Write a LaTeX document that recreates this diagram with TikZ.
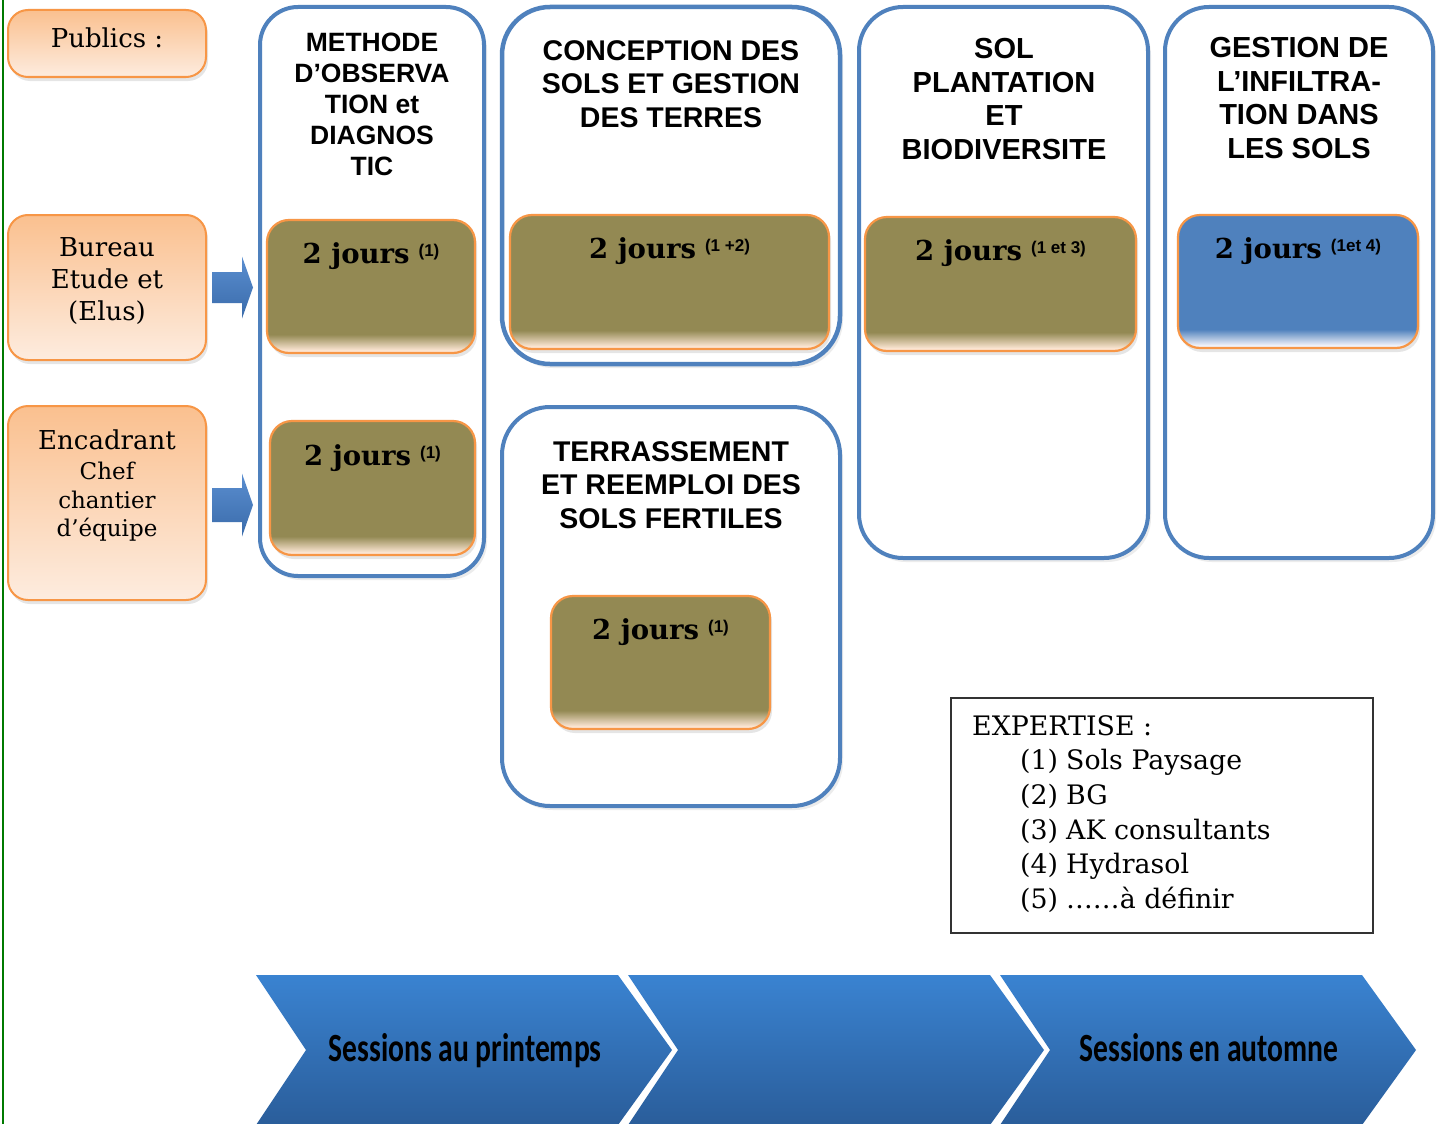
\documentclass[tikz,border=0pt]{standalone}
\usepackage{fontspec}
\usepackage{graphicx}
\setmainfont{DejaVu Serif}
\newfontfamily\arialf{Liberation Sans}
\newfontfamily\calif{Carlito}
\usetikzlibrary{shadows,calc}
\definecolor{colblue}{HTML}{4F81BD}
\definecolor{olivefill}{HTML}{938953}
\definecolor{fadebot}{HTML}{FCE6D4}
\definecolor{innerblue}{HTML}{4F81BD}
\definecolor{bluebot}{HTML}{F2F2F8}
\definecolor{orbord}{HTML}{F79646}
\definecolor{ortop}{HTML}{FAC08F}
\definecolor{orbot}{HTML}{FDECDF}
\definecolor{chevtop}{HTML}{3A83D1}
\definecolor{chevbot}{HTML}{2A5D9A}
\definecolor{arrtop}{HTML}{5A8ED0}
\definecolor{arrbot}{HTML}{3A6BAA}
\definecolor{lineg}{HTML}{007A00}
\pgfdeclareverticalshading{olivefade}{100bp}{color(0bp)=(fadebot); color(26bp)=(fadebot); color(32bp)=(olivefill); color(100bp)=(olivefill)}
\pgfdeclareverticalshading{bluefade}{100bp}{color(0bp)=(bluebot); color(26bp)=(bluebot); color(32bp)=(innerblue); color(100bp)=(innerblue)}
\newcommand\jours[1]{{\fontsize{27.5}{30}\selectfont\bfseries 2 jours}\hspace{9pt}{\arialf\bfseries\fontsize{17}{17}\selectfont\raisebox{7pt}{(#1)}}}
\tikzset{
  colbox/.style={draw=colblue, line width=4pt, fill=white, rounded corners=38pt, inner sep=0pt,
    drop shadow={opacity=0.15, shadow xshift=3pt, shadow yshift=-4pt}},
  inbox/.style={draw=orbord, line width=2.2pt, shade, shading=olivefade, rounded corners=22pt, inner sep=0pt,
    drop shadow={opacity=0.2, shadow xshift=2pt, shadow yshift=-4pt}},
  bluebox/.style={inbox, shading=bluefade},
  pubbox/.style={draw=orbord, line width=2pt, shade, top color=ortop, bottom color=orbot, rounded corners=20pt, inner sep=0pt,
    drop shadow={opacity=0.2, shadow xshift=2pt, shadow yshift=-4pt}},
  title/.style={font=\arialf\bfseries\fontsize{29}{33.7}\selectfont, align=center, inner sep=0pt, anchor=north},
  jtext/.style={inner sep=0pt, anchor=base},
  pubtext/.style={inner sep=0pt, align=center, font=\fontsize{26}{32}\selectfont},
  blockarrow/.style={shade, top color=arrtop, bottom color=arrbot},
  chevron/.style={shade, top color=chevtop, bottom color=chevbot},
  chevtext/.style={inner sep=0pt, anchor=base},
}
\begin{document}
\begin{tikzpicture}[x=1pt, y=-1pt]
\useasboundingbox (0,0) rectangle (1440,1124);
\fill[white] (0,0) rectangle (1440,1124);
\draw[lineg, line width=2pt] (2.5,0) -- (2.5,1124);

% columns
\node[colbox, minimum width=224pt, minimum height=569pt] (c1) at (372,291.5) {};
\node[colbox, rounded corners=48pt, line width=4.5pt, minimum width=338pt, minimum height=357pt] (c2a) at (671,185.5) {};
\node[colbox, rounded corners=48pt, minimum width=338pt, minimum height=399pt] (c2b) at (671,606.5) {};
\node[colbox, rounded corners=44pt, minimum width=289pt, minimum height=551pt] (c3) at (1003.5,282.5) {};
\node[colbox, rounded corners=44pt, minimum width=268pt, minimum height=551pt] (c4) at (1299,282.5) {};

% titles
\node[title, font=\arialf\bfseries\fontsize{26.5}{31}\selectfont] (t1) at (372,33) {METHODE\\D’OBSERVA\\TION et\\DIAGNOS\\TIC};
\node[title, font=\arialf\bfseries\fontsize{28.5}{33.5}\selectfont] (t2) at (671,40) {CONCEPTION DES\\SOLS ET GESTION\\DES TERRES};
\node[title, font=\arialf\bfseries\fontsize{28.5}{33.5}\selectfont] (t3) at (671,441) {TERRASSEMENT\\ET REEMPLOI DES\\SOLS FERTILES};
\node[title] (t4) at (1004,38) {SOL\\PLANTATION\\ET\\BIODIVERSITE};
\node[title] (t5) at (1299,37) {GESTION DE\\L’INFILTRA-\\TION DANS\\LES SOLS};

% inner boxes
\node[inbox, minimum width=208pt, minimum height=133pt] (i1) at (371,286.5) {};
\node[inbox, minimum width=205pt, minimum height=134pt] (i2) at (372.5,488) {};
\node[inbox, minimum width=319pt, minimum height=134pt] (i3) at (669.5,282) {};
\node[inbox, minimum width=219pt, minimum height=133pt] (i4) at (660.5,662.5) {};
\node[inbox, minimum width=271pt, minimum height=134pt] (i5) at (1000.5,284) {};
\node[bluebox, minimum width=240pt, minimum height=133pt] (i6) at (1298,281.5) {};

\node[jtext] (j1) at (371,263) {\jours{1}};
\node[jtext] (j2) at (372.5,465) {\jours{1}};
\node[jtext] (j3) at (669.5,258) {\jours{1 +2}};
\node[jtext] (j4) at (660.5,639) {\jours{1}};
\node[jtext] (j5) at (1000.5,260) {\jours{1 et 3}};
\node[jtext] (j6) at (1298,258) {\jours{1et 4}};

% publics
\node[pubbox, minimum width=198pt, minimum height=67pt] (p) at (107,43.5) {};
\node[pubbox, minimum width=198pt, minimum height=145pt] (b) at (107,287.5) {};
\node[pubbox, minimum width=198pt, minimum height=194pt] (e) at (107,503) {};
\node[jtext, font=\fontsize{26}{32}\selectfont] (pt) at (107,48) {Publics :};
\node[pubtext, anchor=north] (bt) at (107,237) {Bureau\\Etude et\\(Elus)};
\node[jtext, font=\fontsize{26}{30}\selectfont] (et1) at (107,449) {Encadrant};
\node[jtext, font=\fontsize{23}{29}\selectfont] (et2) at (107,479) {Chef};
\node[jtext, font=\fontsize{23}{29}\selectfont] (et3) at (107,508) {chantier};
\node[jtext, font=\fontsize{23}{29}\selectfont] (et4) at (107,536) {d’équipe};

% block arrows
\coordinate (a1) at ($(b.east)+(5,0)$);
\coordinate (a2) at ($(e.east)+(5,2)$);
\path[blockarrow] (a1) ++(0,-15.5) -- ++(30,0) -- ++(0,-15.5) -- ++(11,31) -- ++(-11,31) -- ++(0,-15.5) -- ++(-30,0) -- cycle;
\path[blockarrow] (a2) ++(0,-17) -- ++(30,0) -- ++(0,-14.5) -- ++(11,31.5) -- ++(-11,31.5) -- ++(0,-14.5) -- ++(-30,0) -- cycle;

% expertise
\node[draw=black!80, line width=1.2pt, minimum width=422pt, minimum height=235pt, inner sep=0pt] (x) at (1162,815.5) {};
\node[inner sep=0pt, anchor=north west, align=left, font=\fontsize{26.8}{34.7}\selectfont] (xt) at (972,715) {EXPERTISE :\\
\hspace*{48pt}\makebox[46pt][l]{(1)}Sols Paysage\\
\hspace*{48pt}\makebox[46pt][l]{(2)}BG\\
\hspace*{48pt}\makebox[46pt][l]{(3)}AK consultants\\
\hspace*{48pt}\makebox[46pt][l]{(4)}Hydrasol\\
\hspace*{48pt}\makebox[46pt][l]{(5)}……à définir};

% chevrons
\foreach \L/\nm in {256/ch1, 628/ch2, 1000/ch3}{
  \path[chevron] (\L,975) -- (\L+362,975) -- (\L+416,1050) -- (\L+362,1125) -- (\L,1125) -- (\L+50,1050) -- cycle;
}
\node[chevtext] (s1) at (465,1061) {\scalebox{0.74}[1]{\calif\bfseries\fontsize{40}{40}\selectfont Sessions au printemps}};
\node[chevtext] (s3) at (1209,1061) {\scalebox{0.74}[1]{\calif\bfseries\fontsize{40}{40}\selectfont Sessions en automne}};
\end{tikzpicture}
\end{document}
